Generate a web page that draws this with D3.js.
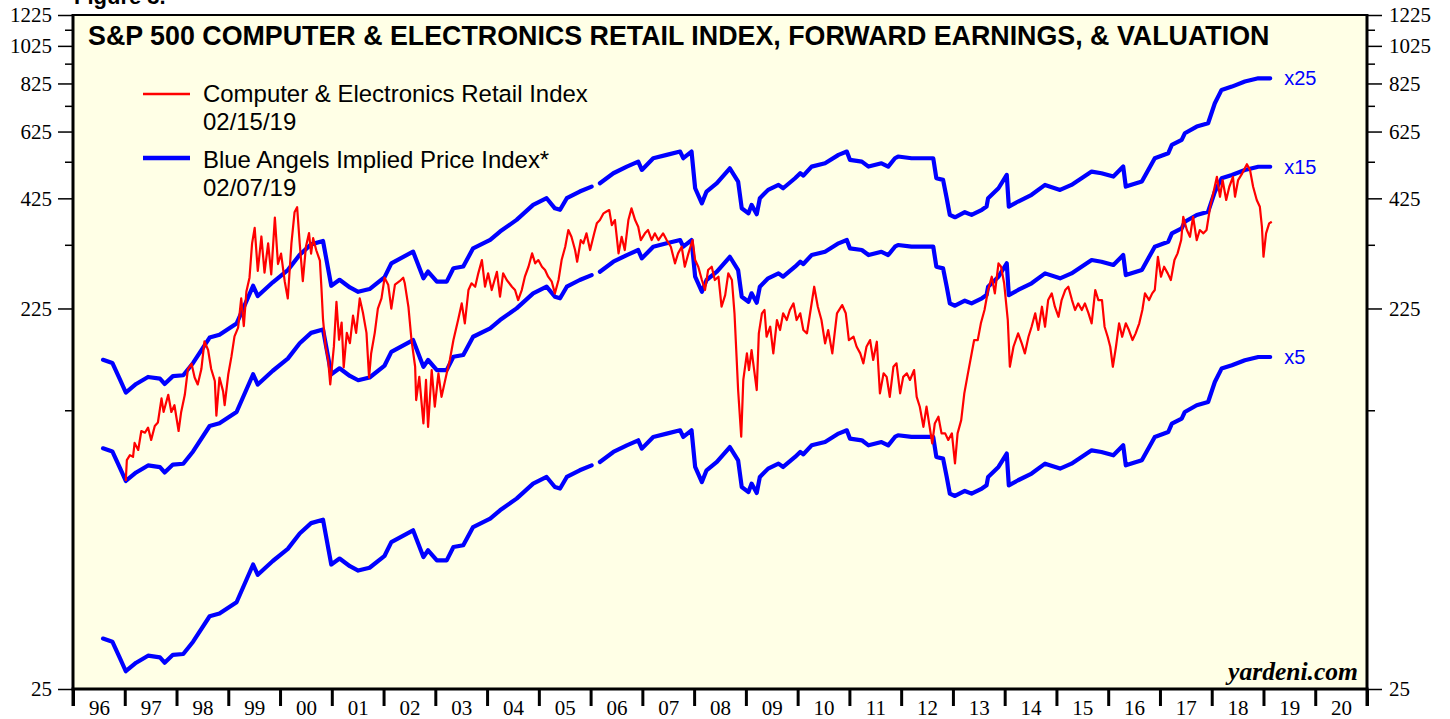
<!DOCTYPE html>
<html><head><meta charset="utf-8">
<script src="https://cdn.jsdelivr.net/npm/d3@7"></script>
<style>body{margin:0;background:#fff}svg{display:block}</style>
</head><body>
<svg id="c" width="1450" height="719"></svg>
<script>
// ---------------- DATA ----------------
const yearLabels = ["96","97","98","99","00","01","02","03","04","05","06","07","08","09","10","11","12","13","14","15","16","17","18","19","20"];
const yMajorTicks = [25,225,425,625,825,1025,1225];
const yMinorTicks = [125,325,525,725,925,1125];
const multiples = [5,15,25];
const multipleLabels = ["x5","x15","x25"];

// Forward earnings (weekly, decimal year) -> Blue Angels implied price = earnings x multiple
const epsDates = [1996.58,1996.76,1996.90,1997.02,1997.22,1997.45,1997.68,1997.77,1997.93,1998.13,1998.32,1998.64,1998.83,1999.16,1999.48,1999.57,1999.86,2000.15,2000.38,2000.60,2000.83,2000.99,2001.15,2001.35,2001.51,2001.73,2002.02,2002.15,2002.57,2002.77,2002.86,2003.03,2003.22,2003.35,2003.54,2003.73,2004.06,2004.25,2004.57,2004.89,2005.15,2005.31,2005.41,2005.54,2005.79,2006.02,2006.05,2006.18,2006.44,2006.70,2006.92,2006.99,2007.21,2007.47,2007.73,2007.79,2007.95,2008.02,2008.15,2008.24,2008.44,2008.69,2008.85,2008.92,2009.05,2009.11,2009.21,2009.27,2009.43,2009.63,2009.72,2009.95,2010.05,2010.11,2010.27,2010.53,2010.79,2010.95,2011.01,2011.24,2011.37,2011.62,2011.75,2011.88,2011.94,2012.20,2012.62,2012.68,2012.81,2012.88,2012.94,2013.04,2013.23,2013.36,2013.56,2013.65,2013.68,2013.88,2014.04,2014.08,2014.26,2014.52,2014.78,2015.07,2015.29,2015.68,2015.87,2016.10,2016.29,2016.34,2016.65,2016.90,2017.16,2017.23,2017.42,2017.48,2017.71,2017.93,2018.06,2018.19,2018.39,2018.64,2018.90,2019.13];
const epsValues = [6.69,6.57,6.00,5.54,5.82,6.06,6.00,5.82,6.09,6.12,6.57,7.61,7.73,8.25,10.26,9.67,10.47,11.23,12.27,13.03,13.29,10.26,10.62,10.16,9.91,10.07,10.79,11.68,12.50,10.71,11.14,10.51,10.51,11.35,11.47,12.74,13.37,14.03,15.01,16.37,17.01,16.05,15.91,17.01,17.68,18.19,null,18.55,19.65,20.42,21.02,20.03,21.43,21.85,22.27,21.43,22.27,18.02,16.52,17.68,18.55,20.22,18.73,16.05,15.59,16.37,15.51,17.01,17.85,18.37,18.02,19.09,19.65,19.39,20.42,20.81,21.85,22.27,21.23,21.02,20.42,20.81,20.42,21.43,21.64,21.43,21.43,19.09,18.91,17.01,15.45,15.24,15.69,15.45,15.91,16.21,17.01,18.02,19.47,16.21,16.69,17.35,18.37,17.85,18.37,19.84,19.65,19.28,20.42,18.19,18.73,21.43,22.05,23.15,23.83,24.75,25.73,26.22,29.43,31.80,32.41,33.36,34.00,34.00];

// Computer & Electronics Retail Index (decimal year)
const priceDates = [
1997.02,1997.04,1997.10,1997.16,1997.19,1997.26,1997.32,1997.39,1997.45,1997.51,
1997.58,1997.64,1997.71,1997.75,1997.84,1997.90,1997.96,1998.04,1998.09,1998.16,
1998.22,1998.29,1998.35,1998.41,1998.48,1998.54,1998.61,1998.67,1998.74,1998.77,
1998.83,1998.90,1998.93,1999.00,1999.06,1999.12,1999.19,1999.25,1999.30,1999.35,
1999.41,1999.46,1999.51,1999.57,1999.64,1999.70,1999.77,1999.83,1999.90,1999.96,
2000.02,2000.09,2000.15,2000.22,2000.28,2000.33,2000.38,2000.44,2000.50,2000.56,
2000.60,2000.64,2000.70,2000.77,2000.80,2000.83,2000.88,2000.93,2000.97,2001.04,
2001.09,2001.14,2001.19,2001.23,2001.29,2001.35,2001.41,2001.47,2001.54,2001.60,
2001.67,2001.72,2001.76,2001.83,2001.89,2001.96,2002.02,2002.09,2002.15,2002.22,
2002.31,2002.38,2002.41,2002.48,2002.54,2002.61,2002.63,2002.69,2002.77,2002.82,
2002.86,2002.93,2002.99,2003.06,2003.12,2003.22,2003.28,2003.35,2003.44,2003.51,
2003.57,2003.64,2003.70,2003.77,2003.83,2003.90,2003.96,2004.02,2004.09,2004.19,
2004.25,2004.31,2004.38,2004.48,2004.54,2004.60,2004.67,2004.73,2004.80,2004.87,
2004.93,2004.99,2005.06,2005.12,2005.18,2005.25,2005.31,2005.38,2005.44,2005.51,
2005.57,2005.63,2005.70,2005.74,2005.81,2005.86,2005.92,2005.99,2006.07,2006.12,
2006.18,2006.25,2006.30,2006.36,2006.41,2006.47,2006.54,2006.60,2006.66,2006.73,
2006.79,2006.86,2006.92,2006.97,2007.05,2007.11,2007.18,2007.24,2007.31,2007.40,
2007.47,2007.55,2007.63,2007.69,2007.76,2007.82,2007.89,2007.97,2008.02,2008.08,
2008.15,2008.21,2008.27,2008.34,2008.40,2008.47,2008.53,2008.60,2008.66,2008.73,
2008.78,2008.82,2008.85,2008.91,2008.95,2009.02,2009.06,2009.11,2009.16,2009.21,
2009.25,2009.31,2009.36,2009.40,2009.47,2009.53,2009.60,2009.66,2009.72,2009.79,
2009.85,2009.92,2009.98,2010.05,2010.11,2010.18,2010.26,2010.32,2010.39,2010.46,
2010.53,2010.59,2010.67,2010.76,2010.86,2010.93,2010.99,2011.08,2011.14,2011.21,
2011.27,2011.33,2011.40,2011.46,2011.53,2011.59,2011.66,2011.72,2011.78,2011.85,
2011.91,2011.98,2012.04,2012.11,2012.17,2012.25,2012.30,2012.36,2012.43,2012.49,
2012.56,2012.60,2012.65,2012.72,2012.78,2012.85,2012.91,2012.98,2013.04,2013.09,
2013.16,2013.22,2013.29,2013.35,2013.41,2013.48,2013.54,2013.61,2013.68,2013.75,
2013.81,2013.88,2013.93,2013.99,2014.06,2014.10,2014.17,2014.26,2014.33,2014.39,
2014.46,2014.52,2014.59,2014.65,2014.72,2014.78,2014.84,2014.91,2014.97,2015.04,
2015.10,2015.17,2015.23,2015.30,2015.36,2015.42,2015.49,2015.55,2015.62,2015.68,
2015.75,2015.81,2015.88,2015.93,2015.99,2016.04,2016.09,2016.15,2016.21,2016.27,
2016.34,2016.40,2016.47,2016.53,2016.60,2016.66,2016.71,2016.79,2016.85,2016.90,
2016.96,2017.02,2017.08,2017.15,2017.21,2017.28,2017.34,2017.41,2017.45,2017.52,
2017.58,2017.64,2017.71,2017.77,2017.84,2017.90,2017.97,2018.03,2018.10,2018.16,
2018.21,2018.28,2018.34,2018.41,2018.45,2018.51,2018.59,2018.68,2018.74,2018.80,
2018.87,2018.93,2018.97,2019.00,2019.05,2019.11,2019.16];
const priceValues = [
83.1,93.7,96.5,95.5,103.5,99.4,110.9,109.8,113.1,105.3,
114.2,116.5,133.9,123.8,136.7,123.8,128.7,110.9,123.8,136.7,
158.6,163.5,151.0,145.1,158.6,186.0,177.0,158.6,148.0,121.2,
151.0,139.4,128.7,153.9,170.1,191.5,201.4,238.4,203.3,248.1,
268.8,327.7,358.4,279.4,341.0,276.7,327.7,274.0,380.3,290.8,
308.8,263.4,238.4,327.7,392.0,403.9,327.7,263.4,321.4,347.8,
308.8,337.7,314.9,296.7,253.1,211.6,180.5,166.7,145.1,180.5,
233.8,187.8,207.5,160.2,195.5,184.1,215.9,195.5,238.4,220.2,
195.5,151.0,173.5,195.5,224.7,238.4,268.8,258.2,224.7,258.2,
263.4,268.8,260.2,227.3,187.5,160.7,132.6,151.6,115.8,148.9,
113.6,157.7,127.6,154.7,135.1,154.7,167.1,187.5,210.5,231.7,
206.5,250.3,260.2,255.1,275.6,297.6,255.1,275.6,250.3,278.1,
240.8,275.6,265.2,255.1,250.3,236.2,250.3,270.3,286.3,309.3,
292.0,297.6,286.3,280.9,270.3,262.6,245.5,265.2,297.6,321.4,
353.9,340.4,315.3,294.7,334.0,327.7,347.2,315.3,347.2,367.8,
374.9,389.7,393.3,397.2,364.1,374.9,309.3,340.4,315.3,374.9,
401.1,374.9,360.7,334.0,347.2,353.9,334.0,347.2,334.0,347.2,
334.0,321.4,292.0,309.3,321.4,286.3,309.3,334.0,297.6,286.3,
265.2,250.3,280.9,286.3,265.2,270.3,227.3,243.0,275.6,265.2,
218.8,170.3,140.5,107.3,148.9,173.6,157.7,177.0,157.7,140.5,
194.9,218.8,223.0,191.1,202.5,173.6,210.5,198.7,218.8,210.5,
223.0,231.7,210.5,218.8,198.7,194.9,227.3,255.1,227.3,210.5,
183.9,198.7,173.6,218.8,229.5,218.8,187.5,191.1,180.4,173.6,
163.9,180.4,187.5,167.1,185.7,137.8,154.7,151.6,135.1,160.7,
163.9,137.8,151.6,154.7,148.9,157.7,135.1,127.6,113.6,127.6,
111.5,103.3,115.8,120.4,109.4,109.4,105.3,109.4,92.0,109.4,
118.1,137.8,154.7,170.3,187.5,187.5,206.5,223.0,250.3,270.3,
245.5,292.0,286.3,260.2,210.5,160.7,180.4,194.9,183.9,173.6,
191.1,202.5,218.8,198.7,227.3,202.5,236.2,245.5,227.3,214.5,
236.2,250.3,255.1,236.2,223.0,231.7,223.0,231.7,218.8,206.5,
250.3,236.2,236.2,202.5,191.1,180.4,160.7,180.4,206.5,191.1,
206.5,198.7,187.5,194.9,206.5,223.0,245.5,236.2,245.5,250.3,
303.3,270.3,286.3,275.6,265.2,297.6,309.3,334.0,382.1,353.9,
340.4,382.1,334.0,353.9,347.2,353.9,404.8,437.4,481.3,428.9,
472.3,420.9,454.4,481.3,428.9,472.3,490.9,517.7,500.4,454.4,
420.9,404.8,360.7,303.3,347.2,367.8,371.3];

const titleText = "S&P 500 COMPUTER & ELECTRONICS RETAIL INDEX, FORWARD EARNINGS, & VALUATION";
const legendItems = [
  {name:"Computer & Electronics Retail Index", date:"02/15/19", color:"#ff0000", width:2.5},
  {name:"Blue Angels Implied Price Index*", date:"02/07/19", color:"#0000ff", width:4.5}
];

// ---------------- LAYOUT ----------------
const m = {left:73, right:1367, top:15, bottom:689};
const svg = d3.select("#c");
const x = d3.scaleLinear().domain([1996,2021]).range([m.left,m.right]);
const y = d3.scaleLog().domain([25,1225]).range([m.bottom,m.top]);

svg.append("defs").append("clipPath").attr("id","clip")
  .append("rect").attr("x",m.left).attr("y",m.top).attr("width",m.right-m.left).attr("height",m.bottom-m.top);

// cut-off figure header at the very top
svg.append("text").attr("x",74).attr("y",4).attr("font-family","Liberation Sans, Arial").attr("font-weight","bold")
  .attr("font-size",22).attr("fill","#000").text("Figure 3.");

svg.append("rect").attr("x",m.left).attr("y",m.top).attr("width",m.right-m.left).attr("height",m.bottom-m.top)
  .attr("fill","#ffffe6");

// Y axes
const serif = "Liberation Serif, Times New Roman, serif";
function styleAxis(g){
  g.select(".domain").remove();
  g.selectAll("line").attr("stroke","#000").attr("stroke-width",1.5);
  g.selectAll("text").attr("font-family",serif).attr("font-size",21).attr("fill","#000");
}
svg.append("g").attr("transform",`translate(${m.left},0)`)
  .call(d3.axisLeft(y).tickValues(yMajorTicks).tickSize(15).tickPadding(6).tickFormat(d3.format("d"))).call(styleAxis);
svg.append("g").attr("transform",`translate(${m.left},0)`)
  .call(d3.axisLeft(y).tickValues(yMinorTicks).tickSize(8).tickFormat("")).call(styleAxis);
svg.append("g").attr("transform",`translate(${m.right},0)`)
  .call(d3.axisRight(y).tickValues(yMajorTicks).tickSize(15).tickPadding(7).tickFormat(d3.format("d"))).call(styleAxis);
svg.append("g").attr("transform",`translate(${m.right},0)`)
  .call(d3.axisRight(y).tickValues(yMinorTicks).tickSize(8).tickFormat("")).call(styleAxis);

// X axis: ticks at year boundaries, labels centred in each year
const xg = svg.append("g").attr("transform",`translate(0,${m.bottom})`)
  .call(d3.axisBottom(x).tickValues(d3.range(1996,2022)).tickSize(17).tickFormat(""));
xg.select(".domain").remove();
xg.selectAll("line").attr("stroke","#000").attr("stroke-width",3);
const xl = svg.append("g").attr("transform",`translate(0,${m.bottom})`)
  .call(d3.axisBottom(x).tickValues(d3.range(1996,2021).map(v=>v+0.5)).tickSize(0).tickPadding(11)
        .tickFormat((d,i)=>yearLabels[i]));
xl.select(".domain").remove();
xl.selectAll("text").attr("font-family",serif).attr("font-size",21).attr("fill","#000");

// Lines
const line = d3.line().defined(d=>d[1]!=null).x(d=>x(d[0])).y(d=>y(d[1]));
const plot = svg.append("g").attr("clip-path","url(#clip)");
multiples.forEach((mult)=>{
  const data = epsDates.map((d,i)=>[d, epsValues[i]==null?null:epsValues[i]*mult]);
  plot.append("path").datum(data).attr("d",line).attr("fill","none")
    .attr("stroke","#0000ff").attr("stroke-width",4.2).attr("stroke-linejoin","round").attr("stroke-linecap","round");
});
const price = priceDates.map((d,i)=>[d, priceValues[i]]);
plot.append("path").datum(price).attr("d",line).attr("fill","none")
  .attr("stroke","#ff0000").attr("stroke-width",2.2).attr("stroke-linejoin","round");

// Multiple labels at line ends
const lastI = epsDates.length-1;
multiples.forEach((mult,k)=>{
  svg.append("text").attr("x",x(epsDates[lastI])+14).attr("y",y(epsValues[lastI]*mult)+7)
    .attr("font-family","Liberation Sans, Arial").attr("font-size",20).attr("fill","#0000ff").text(multipleLabels[k]);
});

// Frame
const fr = svg.append("g").attr("stroke","#000");
fr.append("line").attr("x1",m.left).attr("x2",m.right).attr("y1",m.top).attr("y2",m.top).attr("stroke-width",2);
fr.append("line").attr("x1",m.left-1.5).attr("x2",m.right+1.5).attr("y1",m.bottom).attr("y2",m.bottom).attr("stroke-width",3);
fr.append("line").attr("x1",m.left).attr("x2",m.left).attr("y1",m.top-1).attr("y2",m.bottom+17).attr("stroke-width",3);
fr.append("line").attr("x1",m.right).attr("x2",m.right).attr("y1",m.top-1).attr("y2",m.bottom+17).attr("stroke-width",3);

// Title
function fitText(sel, target){
  const fs = +sel.attr("font-size");
  const w = sel.node().getComputedTextLength();
  sel.attr("font-size", fs*target/w);
}
const title = svg.append("text").attr("x",88).attr("y",45).attr("font-family","Liberation Sans, Arial")
  .attr("font-weight","bold").attr("font-size",23).attr("fill","#000").text(titleText);
fitText(title, 1182);

// Legend
const lg = svg.append("g");
const rows = [{ly:94, ty:102, dy:130},{ly:158, ty:168, dy:196}];
let legendFont = null;
legendItems.forEach((it,i)=>{
  const r = rows[i];
  lg.append("line").attr("x1",143).attr("x2",190).attr("y1",r.ly).attr("y2",r.ly)
    .attr("stroke",it.color).attr("stroke-width",it.width);
  const t = lg.append("text").attr("x",203).attr("y",r.ty).attr("font-family","Liberation Sans, Arial")
    .attr("font-size",21).attr("fill","#000").text(it.name);
  if(i===0){ fitText(t,385); legendFont = +t.attr("font-size"); } else t.attr("font-size",legendFont);
  lg.append("text").attr("x",203).attr("y",r.dy).attr("font-family","Liberation Sans, Arial")
    .attr("font-size",legendFont).attr("fill","#000").text(it.date);
});

// Source
const src = svg.append("text").attr("x",1358).attr("y",680).attr("text-anchor","end")
  .attr("font-family",serif).attr("font-style","italic").attr("font-weight","bold")
  .attr("font-size",20).attr("fill","#000").text("yardeni.com");
fitText(src,130);
</script>
</body></html>
